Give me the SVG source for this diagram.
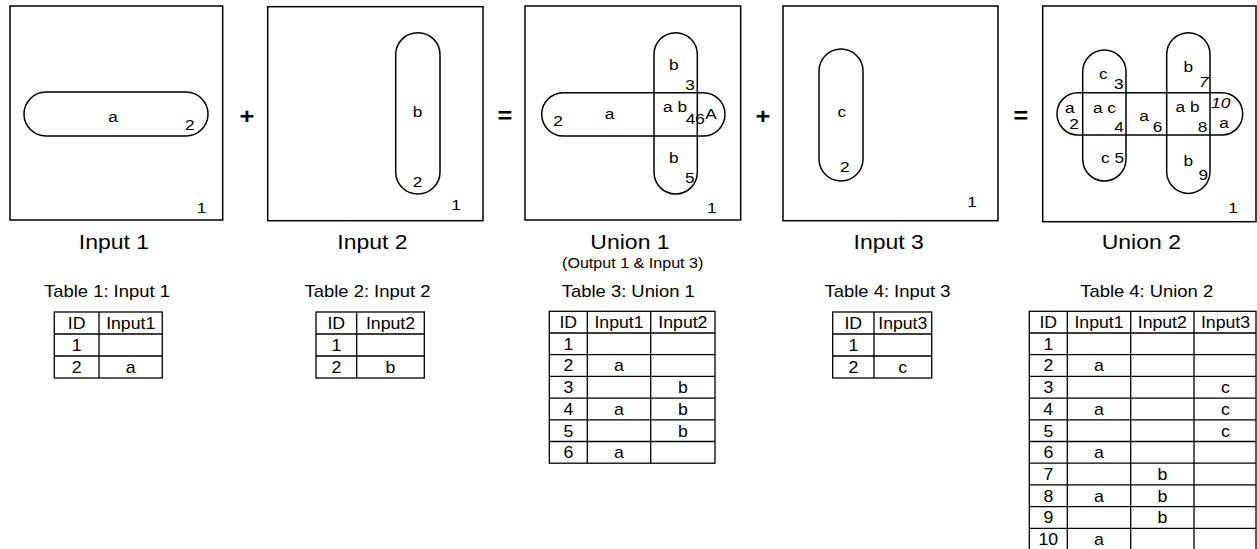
<svg xmlns="http://www.w3.org/2000/svg" width="1257" height="549" viewBox="0 0 1257 549">
<style>
  .box{fill:none;stroke:#000;stroke-width:1.5}
  .st{fill:none;stroke:#000;stroke-width:1.5}
  .tl{fill:none;stroke:#000;stroke-width:1.3}
  text{font-family:"Liberation Sans",Arial,sans-serif;fill:#000;text-anchor:middle;transform:scaleX(1.15);transform-box:fill-box;transform-origin:center}
  text.cell{font-size:17px;transform:scaleX(1.04)}
  .lbl{font-size:15px}
  .it{font-style:italic}
  .ttl{font-size:20px}
  .sub{font-size:14px}
  .cap{font-size:16px}
  .op{font-size:22px;font-weight:bold}
</style>
<rect width="1257" height="549" fill="#fff"/>

<g id="panel-input1">
  <rect class="box" x="10" y="6" width="212.7" height="214"/>
  <rect class="st" x="24" y="92" width="184" height="44" rx="22" ry="22"/>
  <text class="lbl" x="113" y="122.5">a</text>
  <text class="lbl" x="189.7" y="130">2</text>
  <text class="lbl" x="201.5" y="213">1</text>
  <text class="ttl" x="114" y="249">Input 1</text>
</g>

<g id="op-plus1"><text class="op" x="247" y="124.5">+</text></g>

<g id="panel-input2">
  <rect class="box" x="267.7" y="6.7" width="215.3" height="214"/>
  <rect class="st" x="395.7" y="32.7" width="44.3" height="161.3" rx="22" ry="22"/>
  <text class="lbl" x="417.5" y="116.7">b</text>
  <text class="lbl" x="417.5" y="186.7">2</text>
  <text class="lbl" x="456" y="210">1</text>
  <text class="ttl" x="372.5" y="249">Input 2</text>
</g>

<g id="op-eq1"><text class="op" x="505" y="123">=</text></g>

<g id="panel-union1">
  <rect class="box" x="525" y="6" width="215.7" height="214"/>
  <rect class="st" x="541.7" y="92.7" width="183.3" height="43.3" rx="21.7" ry="21.7"/>
  <rect class="st" x="654" y="32.7" width="43.3" height="161.3" rx="21.7" ry="21.7"/>
  <text class="lbl" x="673.7" y="70">b</text>
  <text class="lbl" x="690" y="90">3</text>
  <text class="lbl" x="675" y="111.7">a b</text>
  <text class="lbl" x="711" y="119">A</text>
  <text class="lbl" x="690.5" y="124">4</text>
  <text class="lbl" x="700" y="124">6</text>
  <text class="lbl" x="609.5" y="119.3">a</text>
  <text class="lbl" x="558" y="126">2</text>
  <text class="lbl" x="673.7" y="162.7">b</text>
  <text class="lbl" x="689.7" y="183.3">5</text>
  <text class="lbl" x="711.7" y="213.3">1</text>
  <text class="ttl" x="630" y="249">Union 1</text>
  <text class="sub" x="632.7" y="268">(Output 1 &amp; Input 3)</text>
</g>

<g id="op-plus2"><text class="op" x="763" y="124.5">+</text></g>

<g id="panel-input3">
  <rect class="box" x="783" y="6" width="215" height="214.7"/>
  <rect class="st" x="819" y="49" width="44" height="132" rx="22" ry="22"/>
  <text class="lbl" x="841.7" y="116.7">c</text>
  <text class="lbl" x="844.7" y="171.7">2</text>
  <text class="lbl" x="972" y="207.3">1</text>
  <text class="ttl" x="888.7" y="249">Input 3</text>
</g>

<g id="op-eq2"><text class="op" x="1021" y="123">=</text></g>

<g id="panel-union2">
  <rect class="box" x="1042.7" y="6" width="213.3" height="215.7"/>
  <rect class="st" x="1057" y="92.7" width="185.7" height="42.3" rx="21" ry="21"/>
  <rect class="st" x="1082.7" y="50" width="43.3" height="131" rx="21.7" ry="21.7"/>
  <rect class="st" x="1166.7" y="32.7" width="43.3" height="160.7" rx="21.7" ry="21.7"/>
  <text class="lbl" x="1103.3" y="79.3">c</text>
  <text class="lbl" x="1118.7" y="89.3">3</text>
  <text class="lbl" x="1069.7" y="112.7">a</text>
  <text class="lbl" x="1074" y="129.3">2</text>
  <text class="lbl" x="1104.5" y="112.7">a c</text>
  <text class="lbl" x="1119" y="131.7">4</text>
  <text class="lbl" x="1144" y="120.7">a</text>
  <text class="lbl" x="1157.5" y="131.7">6</text>
  <text class="lbl" x="1188.3" y="71.7">b</text>
  <text class="lbl it" x="1204" y="87.3">7</text>
  <text class="lbl" x="1187.5" y="111.7">a b</text>
  <text class="lbl" x="1202.5" y="131.7">8</text>
  <text class="lbl it" x="1220.7" y="108.3">10</text>
  <text class="lbl" x="1224" y="128.3">a</text>
  <text class="lbl" x="1112.5" y="163.3">c 5</text>
  <text class="lbl" x="1188.3" y="166">b</text>
  <text class="lbl" x="1203.3" y="180">9</text>
  <text class="lbl" x="1233" y="213.3">1</text>
  <text class="ttl" x="1141.3" y="249">Union 2</text>
</g>

<g id="connectors"></g>

<g id="table1">
  <text class="cap" x="107" y="297">Table 1: Input 1</text>
  <rect class="tl" x="54.3" y="312" width="108" height="66"/>
  <path class="tl" d="M54.3 334H162.3M54.3 356H162.3M99 312V378"/>
  <text class="cell" x="76.7" y="328.8">ID</text><text class="cell" x="130.7" y="328.8">Input1</text>
  <text class="cell" x="76.7" y="350.8">1</text>
  <text class="cell" x="76.7" y="372.8">2</text><text class="cell" x="130.7" y="372.8">a</text>
</g>

<g id="table2">
  <text class="cap" x="367.5" y="297">Table 2: Input 2</text>
  <rect class="tl" x="316" y="312" width="108.3" height="66"/>
  <path class="tl" d="M316 334H424.3M316 356H424.3M356.7 312V378"/>
  <text class="cell" x="336.3" y="328.8">ID</text><text class="cell" x="390.5" y="328.8">Input2</text>
  <text class="cell" x="336.3" y="350.8">1</text>
  <text class="cell" x="336.3" y="372.8">2</text><text class="cell" x="390.5" y="372.8">b</text>
</g>

<g id="table3">
  <text class="cap" x="628.3" y="297">Table 3: Union 1</text>
  <rect class="tl" x="549.3" y="311.3" width="165.7" height="151.9"/>
  <path class="tl" d="M549.3 333H715M549.3 354.7H715M549.3 376.4H715M549.3 398.1H715M549.3 419.8H715M549.3 441.5H715M587.3 311.3V463.2M650.7 311.3V463.2"/>
  <text class="cell" x="568.3" y="328.1">ID</text><text class="cell" x="619" y="328.1">Input1</text><text class="cell" x="682.9" y="328.1">Input2</text>
  <text class="cell" x="568.3" y="349.8">1</text>
  <text class="cell" x="568.3" y="371.5">2</text><text class="cell" x="619" y="371.5">a</text>
  <text class="cell" x="568.3" y="393.2">3</text><text class="cell" x="682.9" y="393.2">b</text>
  <text class="cell" x="568.3" y="414.9">4</text><text class="cell" x="619" y="414.9">a</text><text class="cell" x="682.9" y="414.9">b</text>
  <text class="cell" x="568.3" y="436.6">5</text><text class="cell" x="682.9" y="436.6">b</text>
  <text class="cell" x="568.3" y="458.3">6</text><text class="cell" x="619" y="458.3">a</text>
</g>

<g id="table4">
  <text class="cap" x="887.5" y="297">Table 4: Input 3</text>
  <rect class="tl" x="832.7" y="312" width="99" height="66"/>
  <path class="tl" d="M832.7 334H931.7M832.7 356H931.7M874 312V378"/>
  <text class="cell" x="853.3" y="328.8">ID</text><text class="cell" x="902.8" y="328.8">Input3</text>
  <text class="cell" x="853.3" y="350.8">1</text>
  <text class="cell" x="853.3" y="372.8">2</text><text class="cell" x="902.8" y="372.8">c</text>
</g>

<g id="table5">
  <text class="cap" x="1146.7" y="297">Table 4: Union 2</text>
  <rect class="tl" x="1029.3" y="311.3" width="226.7" height="238.7"/>
  <path class="tl" d="M1029.3 333H1256M1029.3 354.7H1256M1029.3 376.4H1256M1029.3 398.1H1256M1029.3 419.8H1256M1029.3 441.5H1256M1029.3 463.2H1256M1029.3 484.9H1256M1029.3 506.6H1256M1029.3 528.3H1256M1067.3 311.3V550M1130.7 311.3V550M1194 311.3V550"/>
  <text class="cell" x="1048.3" y="328.1">ID</text><text class="cell" x="1099" y="328.1">Input1</text><text class="cell" x="1162.3" y="328.1">Input2</text><text class="cell" x="1225.5" y="328.1">Input3</text>
  <text class="cell" x="1048.3" y="349.8">1</text>
  <text class="cell" x="1048.3" y="371.5">2</text><text class="cell" x="1099" y="371.5">a</text>
  <text class="cell" x="1048.3" y="393.2">3</text><text class="cell" x="1225.5" y="393.2">c</text>
  <text class="cell" x="1048.3" y="414.9">4</text><text class="cell" x="1099" y="414.9">a</text><text class="cell" x="1225.5" y="414.9">c</text>
  <text class="cell" x="1048.3" y="436.6">5</text><text class="cell" x="1225.5" y="436.6">c</text>
  <text class="cell" x="1048.3" y="458.3">6</text><text class="cell" x="1099" y="458.3">a</text>
  <text class="cell" x="1048.3" y="480">7</text><text class="cell" x="1162.3" y="480">b</text>
  <text class="cell" x="1048.3" y="501.7">8</text><text class="cell" x="1099" y="501.7">a</text><text class="cell" x="1162.3" y="501.7">b</text>
  <text class="cell" x="1048.3" y="523.4">9</text><text class="cell" x="1162.3" y="523.4">b</text>
  <text class="cell" x="1048.3" y="545.1">10</text><text class="cell" x="1099" y="545.1">a</text>
</g>
</svg>
